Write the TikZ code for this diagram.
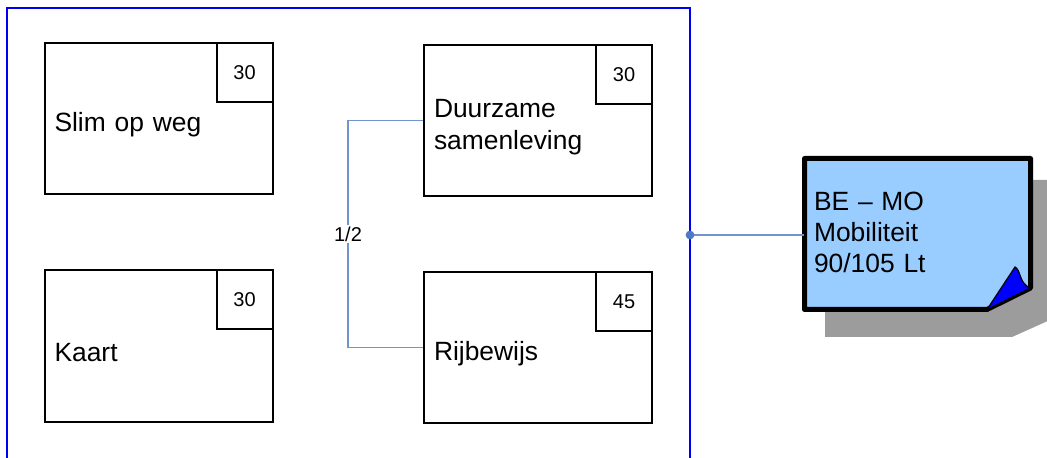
\documentclass[tikz,border=0pt]{standalone}
\usepackage{fontspec}
\setmainfont{Liberation Sans}
\usepackage{xcolor}
\usepackage{tikz}

\definecolor{frameblue}{HTML}{0000F0}
\definecolor{linkblue}{HTML}{7094CC}
\definecolor{dotblue}{HTML}{4D79C7}
\definecolor{notefill}{HTML}{99CCFF}
\definecolor{shadowgray}{HTML}{9C9C9C}

\tikzset{
	course/.style={draw, line width=1pt, minimum width=114pt, minimum height=75.5pt,
		text width=104pt, inner sep=0pt, align=left, font=\fontsize{13.2}{16}\selectfont,
		execute at begin node={\rule{0pt}{15.5pt}}},
	hours/.style={draw, line width=1pt, minimum width=28pt, minimum height=29.5pt,
		inner sep=0pt, anchor=north east, font=\fontsize{10}{12}\selectfont},
	link/.style={draw=linkblue, line width=0.6pt},
	notetext/.style={minimum width=113pt, minimum height=75.5pt, text width=103.5pt,
		inner sep=0pt, align=left, font=\fontsize{13.2}{15.5}\selectfont}
}

\begin{document}
\begin{tikzpicture}[x=0.5pt, y=-0.5pt]
				\useasboundingbox (0, 0) rectangle (1047, 458);
				
				%Frame
				\draw[frameblue, line width=1pt] (7, 458) -- (7, 8) -- (690, 8) -- (690, 458);
				
				%Left column
				\node[course] (slim) at (158.5, 119) {Slim op weg};
				\node[hours] (slimnr) at (slim.north east) {30};
				\node[course] (kaart) at (158.5, 346) {Kaart};
				\node[hours] (kaartnr) at (kaart.north east) {30};
				
				%Right column
				\node[course] (duurz) at (538, 120.5) {Duurzame\\samenleving};
				\node[hours] (duurznr) at (duurz.north east) {30};
				\node[course] (rijb) at (538, 347.5) {Rijbewijs};
				\node[hours] (rijbnr) at (rijb.north east) {45};
				
				%Choice
				\draw[link] (duurz.west) -- ++(-75, 0) coordinate (bend)
					-- node[fill=white, inner sep=1pt, font=\fontsize{10}{12}\selectfont] (choice) {1/2}
					(bend |- rijb.west) -- (rijb.west);
				
				%Note shadow
				\fill[shadowgray] (825, 180) -- (1050, 180) -- (1050, 320) -- (1012, 337) -- (825, 337) -- cycle;
				
				%Note
				\filldraw[fill=notefill, draw=black, line width=2.5pt, line join=round]
					(804.5, 158.5) -- (1030.5, 158.5) -- (1030.5, 288) -- (987, 309.5) -- (804.5, 309.5) -- cycle;
				\filldraw[fill=blue, draw=black, line width=0.6pt]
					(987, 309.5) -- (1015, 267) .. controls (1021, 270) and (1019, 284) .. (1030.5, 288) -- cycle;
				\node[notetext] (note) at (917.5, 232) {BE – MO\\Mobiliteit\\90/105 Lt};
				
				%Link to note
				\coordinate (dot) at (690, 235);
				\draw[link] (dot) -- (dot -| note.west);
				\fill[dotblue] (dot) circle(2.2pt);
			\end{tikzpicture}
\end{document}
